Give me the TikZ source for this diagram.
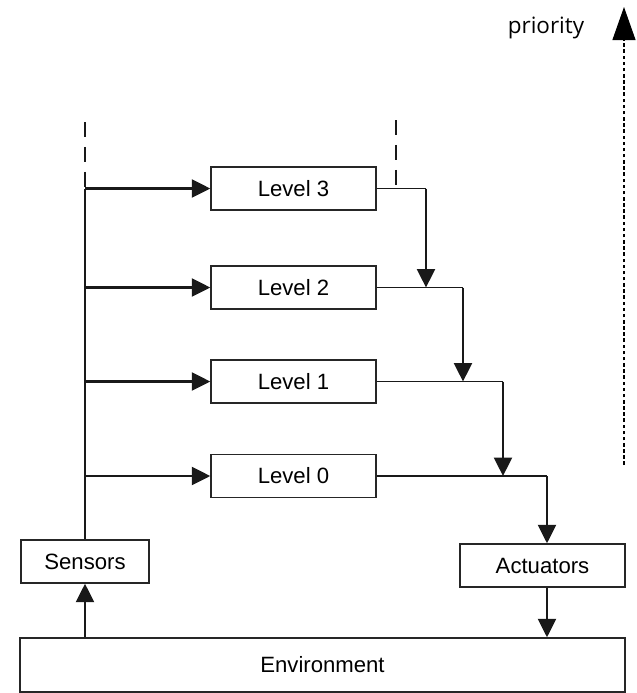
\documentclass[tikz,border=0pt]{standalone}
\usepackage{fontspec}
\setmainfont{Liberation Sans}
\newfontfamily\priofont{Open Sans}
\usetikzlibrary{arrows.meta,positioning}

\begin{document}
\begin{tikzpicture}[x=0.2mm,y=-0.2mm]
			\tikzstyle{every node}+=[inner sep=0pt,font=\fontsize{12.6}{15}\selectfont]
			\tikzstyle{block}=[draw=black!85,line width=0.8pt,minimum width=33mm,minimum height=8.6mm]
			\tikzstyle{feed}=[black!90,line width=1.3pt,-{Triangle[length=3.7mm,width=3.6mm]}]
			\tikzstyle{wire}=[black!90,line width=0.8pt]
			\tikzstyle{bus}=[black!90,line width=1pt]
			\tikzstyle{busdash}=[black!90,line width=1pt,dash pattern=on 8.5pt off 5.7pt]
			\useasboundingbox (0,0) rectangle (637,693);
			\node [block] (l3) at (293.5,188.5) {Level 3};
			\node [block] (l2) at (293.5,287.5) {Level 2};
			\node [block] (l1) at (293.5,381.5) {Level 1};
			\node [block] (l0) at (293.5,476) {Level 0};
			\node [block,minimum width=25.6mm] (s) at (85,561.5) {Sensors};
			\node [block] (a) at (542.5,565.5) {Actuators};
			\node [block,minimum width=121mm,minimum height=10.8mm] (e) at (322.5,665) {Environment};
			\node [font={\priofont\fontsize{12.8}{15}\selectfont}] (prio) at (546,28) {priority};
			\coordinate (topl) at (85,122);
			\coordinate (topr) at (396,120);
			\coordinate (c3) at (426,188.5);
			\coordinate (c2) at (463,287.5);
			\coordinate (c1) at (503,381.5);
			\coordinate (c0) at (547,476);
			\coordinate (pb) at (624,465);
			\coordinate (pt) at (624,7);
			\draw [busdash] (topl) -- (s.north |- l3.west);
			\draw [bus] (s.north |- l3.west) -- (s.north);
			\foreach \l in {0,...,3}
				\draw [feed] (s.north |- l\l.west) -- (l\l.west);
			\draw [busdash] (topr) -- (topr |- l3.east);
			\draw [wire] (l3.east) -- (c3);
			\draw [feed] (c3) -- (c3 |- l2.east);
			\draw [wire] (l2.east) -- (c2);
			\draw [feed] (c2) -- (c2 |- l1.east);
			\draw [wire] (l1.east) -- (c1);
			\draw [feed] (c1) -- (c1 |- l0.east);
			\draw [wire] (l0.east) -- (c0);
			\draw [feed] (c0) -- (c0 |- a.north);
			\draw [feed] (c0 |- a.south) -- (c0 |- e.north);
			\draw [feed] (s.south |- e.north) -- (s.south);
			\draw [black,line width=0.6pt,dash pattern=on 2pt off 1.5pt,-{Triangle[length=6.6mm,width=4.6mm]}] (pb) -- (pt);
\end{tikzpicture}
\end{document}
